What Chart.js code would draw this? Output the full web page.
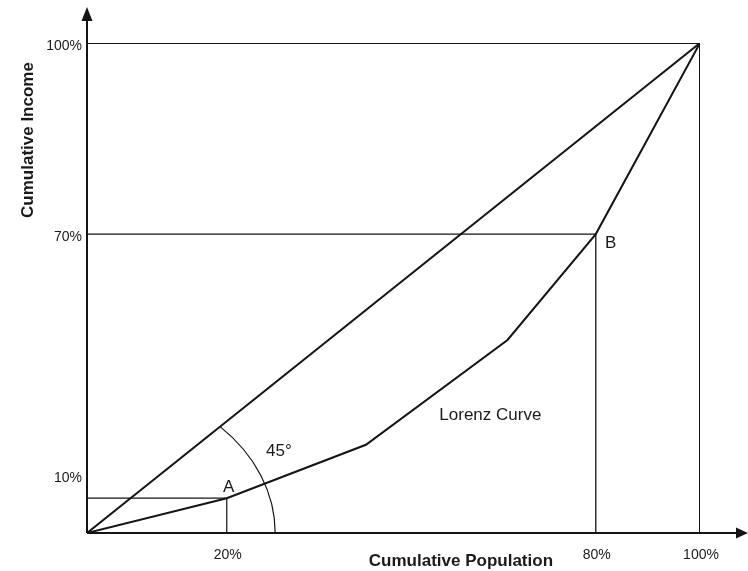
<!DOCTYPE html>
<html>
<head>
<meta charset="utf-8">
<script src="https://cdn.jsdelivr.net/npm/chart.js@4.4.0/dist/chart.umd.min.js"></script>
<style>
  html, body { margin: 0; padding: 0; background: #fff; }
  #wrap { width: 748px; height: 571px; position: relative; }
</style>
</head>
<body>
<div id="wrap"><canvas id="c" width="748" height="571"></canvas></div>
<script>
// Positions in the diagram are given as percent of the 100% box (schematic figure)
const lorenzX = [0, 22.8, 45.5, 68.6, 83.0, 100];
const lorenzY = [0, 7.1, 18.0, 39.4, 61.0, 100];
const equalityX = [0, 100];
const equalityY = [0, 100];
const pointA = { x: 22.8, y: 7.1, label: 'A' };
const pointB = { x: 83.0, y: 61.0, label: 'B' };
const xTickValues = [22.8, 83.0, 100];
const xTickLabels = ['20%', '80%', '100%'];
const yTickValues = [11.8, 61.0, 100];
const yTickLabels = ['10%', '70%', '100%'];
const angleRadius = 30.7;      // radius of the 45° arc, in axis units
const angleLabel = '45°';
const curveLabel = 'Lorenz Curve';
const xTitle = 'Cumulative Population';
const yTitle = 'Cumulative Income';

const INK = '#141414';
const pts = (xs, ys) => xs.map((x, i) => ({ x, y: ys[i] }));

const datasets = [
  { data: pts([0, 100, 100], [100, 100, 0]), borderWidth: 2, borderColor: INK },
  { data: pts([0, pointA.x, pointA.x], [pointA.y, pointA.y, 0]), borderWidth: 1.2, borderColor: INK },
  { data: pts([0, pointB.x, pointB.x], [pointB.y, pointB.y, 0]), borderWidth: 1.3, borderColor: INK },
  { data: pts(equalityX, equalityY), borderWidth: 2, borderColor: INK },
  { data: pts(lorenzX, lorenzY), borderWidth: 2, borderColor: INK }
].map(d => Object.assign({ showLine: true, pointRadius: 0, fill: false, tension: 0 }, d));

const decor = {
  id: 'decor',
  afterDatasetsDraw(chart) {
    const ctx = chart.ctx;
    const xs = chart.scales.x, ys = chart.scales.y;
    const a = chart.chartArea;
    const X = v => xs.getPixelForValue(v), Y = v => ys.getPixelForValue(v);
    ctx.save();
    ctx.strokeStyle = INK; ctx.fillStyle = INK;
    // axis extensions + arrowheads
    ctx.lineWidth = 2;
    ctx.beginPath();
    ctx.moveTo(a.left, a.bottom); ctx.lineTo(a.left, 18);
    ctx.moveTo(a.left, a.bottom); ctx.lineTo(chart.width - 8, a.bottom);
    ctx.stroke();
    ctx.beginPath();
    ctx.moveTo(a.left, 7); ctx.lineTo(a.left - 5.5, 21); ctx.lineTo(a.left + 5.5, 21); ctx.closePath();
    ctx.fill();
    ctx.beginPath();
    ctx.moveTo(chart.width, a.bottom); ctx.lineTo(chart.width - 12, a.bottom - 5.5); ctx.lineTo(chart.width - 12, a.bottom + 5.5); ctx.closePath();
    ctx.fill();
    // 45° arc (circle in axis units)
    const rx = X(angleRadius) - X(0), ry = Y(0) - Y(angleRadius);
    ctx.lineWidth = 1.2;
    ctx.beginPath();
    ctx.ellipse(X(0), Y(0), rx, ry, 0, -Math.PI / 4, 0);
    ctx.stroke();
    // labels
    ctx.textAlign = 'center'; ctx.textBaseline = 'middle';
    ctx.fillStyle = '#1a1a1a';
    ctx.font = '17px "Liberation Sans", Arial, sans-serif';
    ctx.fillText(pointA.label, X(pointA.x) + 2, Y(pointA.y) - 11);
    ctx.fillText(pointB.label, X(pointB.x) + 15, Y(pointB.y) + 9);
    ctx.fillText(angleLabel, X(31.3), Y(16.7));
    ctx.fillText(curveLabel, X(65.8), Y(24.1));
    ctx.font = 'bold 17px "Liberation Sans", Arial, sans-serif';
    ctx.fillText(xTitle, X(61.0), a.bottom + 28);
    ctx.translate(28, Y(80.2));
    ctx.rotate(-Math.PI / 2);
    ctx.fillText(yTitle, 0, 0);
    ctx.restore();
  }
};

new Chart(document.getElementById('c'), {
  type: 'scatter',
  data: { datasets },
  plugins: [decor],
  options: {
    responsive: false,
    animation: false,
    layout: { padding: { top: 43, right: 48, left: 0, bottom: 0 } },
    plugins: { legend: { display: false }, tooltip: { enabled: false } },
    scales: {
      x: {
        type: 'linear', min: 0, max: 100,
        grid: { display: false, drawTicks: false, tickLength: 0 },
        border: { display: false },
        afterFit: s => { s.height = 38; },
        afterBuildTicks: s => { s.ticks = xTickValues.map(v => ({ value: v })); },
        ticks: {
          autoSkip: false, maxRotation: 0, padding: 14, labelOffset: 1,
          color: '#1a1a1a',
          font: { size: 14, family: '"Liberation Sans", Arial, sans-serif' },
          callback: (v, i) => xTickLabels[i]
        }
      },
      y: {
        type: 'linear', min: 0, max: 100,
        grid: { display: false, drawTicks: false, tickLength: 0 },
        border: { display: false },
        afterFit: s => { s.width = 87; },
        afterBuildTicks: s => { s.ticks = yTickValues.map(v => ({ value: v })); },
        ticks: {
          autoSkip: false, padding: 5, labelOffset: 3,
          color: '#1a1a1a',
          font: { size: 14, family: '"Liberation Sans", Arial, sans-serif' },
          callback: (v, i) => yTickLabels[i]
        }
      }
    }
  }
});
</script>
</body>
</html>
